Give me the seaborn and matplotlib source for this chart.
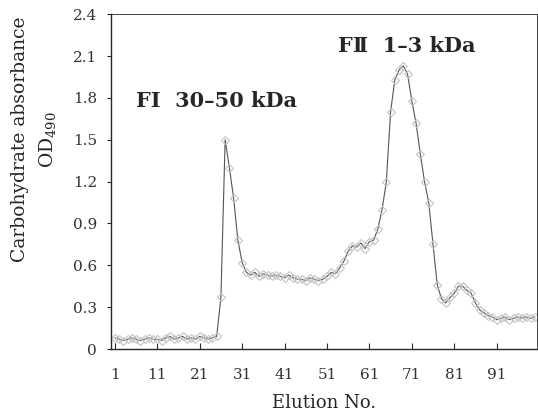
import numpy as np
import pandas as pd
import seaborn as sns
import matplotlib.pyplot as plt

sns.set_style('ticks')
plt.rcParams['font.family'] = ['DejaVu Serif', 'Liberation Serif']

# 溶出画分の番号と糖の吸光度 (OD490)
fractions = list(range(1, 101))
od490 = [
    0.08, 0.07, 0.06, 0.07, 0.08, 0.07, 0.06, 0.07, 0.08, 0.07,
    0.07, 0.06, 0.08, 0.09, 0.07, 0.08, 0.09, 0.07, 0.08, 0.07,
    0.09, 0.08, 0.07, 0.08, 0.09, 0.37, 1.50, 1.30, 1.08, 0.78,
    0.62, 0.55, 0.53, 0.55, 0.52, 0.54, 0.53, 0.52, 0.53, 0.52,
    0.51, 0.53, 0.51, 0.50, 0.50, 0.49, 0.51, 0.50, 0.49, 0.50,
    0.52, 0.55, 0.54, 0.58, 0.63, 0.70, 0.74, 0.73, 0.76, 0.72,
    0.77, 0.78, 0.86, 1.00, 1.20, 1.70, 1.93, 2.00, 2.03, 1.97,
    1.78, 1.62, 1.40, 1.20, 1.05, 0.75, 0.46, 0.36, 0.33, 0.37,
    0.40, 0.45, 0.45, 0.42, 0.40, 0.33, 0.28, 0.26, 0.24, 0.23,
    0.21, 0.22, 0.23, 0.21, 0.22, 0.23, 0.22, 0.23, 0.22, 0.23,
]
xtick_labels = [1, 11, 21, 31, 41, 51, 61, 71, 81, 91]
ytick_values = [0, 0.3, 0.6, 0.9, 1.2, 1.5, 1.8, 2.1, 2.4]

df = pd.DataFrame({'Elution': fractions, 'OD': od490})

fig = plt.figure(figsize=(5.38, 4.17), dpi=100)
ax = fig.add_axes([0.206, 0.163, 0.792, 0.803])

sns.lineplot(data=df, x='Elution', y='OD', ax=ax, color='#555555', linewidth=0.8,
             marker='D', markersize=4, markerfacecolor='none',
             markeredgecolor='#c4c4c4', markeredgewidth=0.8)

ax.set_xlim(0.05, 100.5)
ax.set_ylim(0, 2.4)
ax.set_xticks(xtick_labels)
ax.set_xticklabels([str(v) for v in xtick_labels], fontsize=11)
ax.set_yticks(ytick_values)
ax.set_yticklabels(['0' if v == 0 else f'{v:.1f}' for v in ytick_values], fontsize=11, color='#333333')
ax.tick_params(axis='x', direction='in', length=4, pad=14)
ax.tick_params(axis='y', direction='out', length=3, pad=7)
for t in ax.get_xticklabels():
    t.set_color('#333333')

ax.set_xlabel('Elution No.', fontsize=13, labelpad=8)
ax.set_ylabel('')
for spine in ax.spines.values():
    spine.set_visible(True)
    spine.set_linewidth(1.0)
ax.spines['top'].set_linewidth(0.6)
ax.spines['right'].set_linewidth(0.6)

fig.text(0.037, 0.665, 'Carbohydrate absorbance', rotation=90, ha='center', va='center', fontsize=13.5)
fig.text(0.09, 0.665, 'OD$_{\\mathregular{490}}$', rotation=90, ha='center', va='center', fontsize=13.5)

ax.text(25, 1.78, 'FⅠ  30–50 kDa', ha='center', va='center', fontsize=15, fontweight='bold')
ax.text(69.8, 2.17, 'FⅡ  1–3 kDa', ha='center', va='center', fontsize=15, fontweight='bold')

plt.savefig('out.png', dpi=100)
